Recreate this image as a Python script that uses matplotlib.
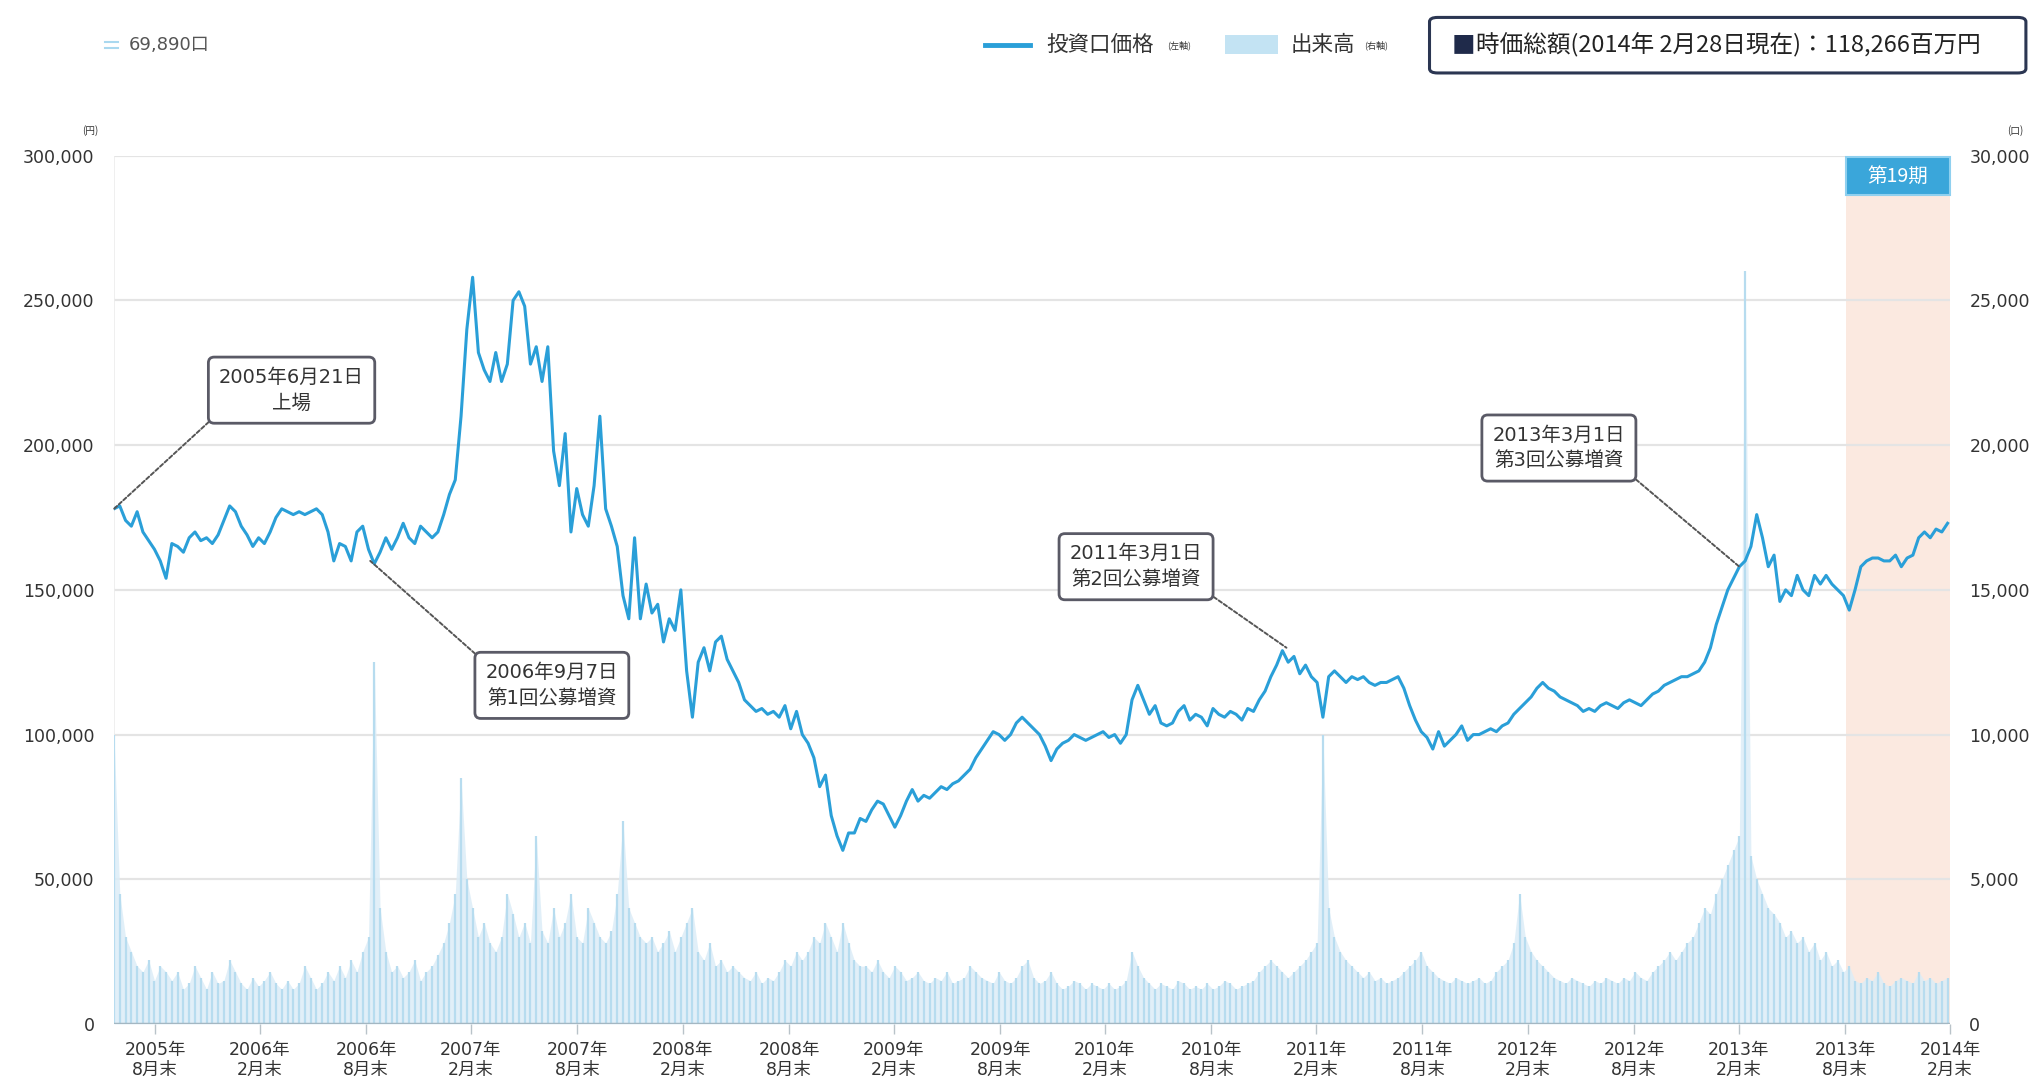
import matplotlib
matplotlib.use("Agg")
import matplotlib.pyplot as plt
import matplotlib.dates as mdates
from matplotlib.patches import Rectangle, FancyBboxPatch
from matplotlib.lines import Line2D
import pandas as pd
import numpy as np

plt.rcParams['font.family'] = ['Noto Sans CJK JP', 'DejaVu Sans']
NUM_FONT = ['DejaVu Sans', 'Noto Sans CJK JP']

# ---- data -------------------------------------------------------------
# unit price (thousand yen), one reading every 10 days from listing day
price_start = "2005-06-21"
price_k = [
    178, 179, 174, 172, 177, 170, 167, 164, 160, 154,
    166, 165, 163, 168, 170, 167, 168, 166, 169, 174,
    179, 177, 172, 169, 165, 168, 166, 170, 175, 178,
    177, 176, 177, 176, 177, 178, 176, 170, 160, 166,
    165, 160, 170, 172, 164, 159, 163, 168, 164, 168,
    173, 168, 166, 172, 170, 168, 170, 176, 183, 188,
    210, 240, 258, 232, 226, 222, 232, 222, 228, 250,
    253, 248, 228, 234, 222, 234, 198, 186, 204, 170,
    185, 176, 172, 186, 210, 178, 172, 165, 148, 140,
    168, 140, 152, 142, 145, 132, 140, 136, 150, 122,
    106, 125, 130, 122, 132, 134, 126, 122, 118, 112,
    110, 108, 109, 107, 108, 106, 110, 102, 108, 100,
    97, 92, 82, 86, 72, 65, 60, 66, 66, 71,
    70, 74, 77, 76, 72, 68, 72, 77, 81, 77,
    79, 78, 80, 82, 81, 83, 84, 86, 88, 92,
    95, 98, 101, 100, 98, 100, 104, 106, 104, 102,
    100, 96, 91, 95, 97, 98, 100, 99, 98, 99,
    100, 101, 99, 100, 97, 100, 112, 117, 112, 107,
    110, 104, 103, 104, 108, 110, 105, 107, 106, 103,
    109, 107, 106, 108, 107, 105, 109, 108, 112, 115,
    120, 124, 129, 125, 127, 121, 124, 120, 118, 106,
    120, 122, 120, 118, 120, 119, 120, 118, 117, 118,
    118, 119, 120, 116, 110, 105, 101, 99, 95, 101,
    96, 98, 100, 103, 98, 100, 100, 101, 102, 101,
    103, 104, 107, 109, 111, 113, 116, 118, 116, 115,
    113, 112, 111, 110, 108, 109, 108, 110, 111, 110,
    109, 111, 112, 111, 110, 112, 114, 115, 117, 118,
    119, 120, 120, 121, 122, 125, 130, 138, 144, 150,
    154, 158, 160, 165, 176, 168, 158, 162, 146, 150,
    148, 155, 150, 148, 155, 152, 155, 152, 150, 148,
    143, 150, 158, 160, 161, 161, 160, 160, 162, 158,
    161, 162, 168, 170, 168, 171, 170, 173,
]

# trading volume (hundreds of units), same 10-day readings
volume_h = [
    100, 45, 30, 25, 20, 18, 22, 15, 20, 18,
    15, 18, 12, 14, 20, 16, 12, 18, 14, 15,
    22, 18, 14, 12, 16, 13, 15, 18, 14, 12,
    15, 12, 14, 20, 16, 12, 14, 18, 15, 20,
    16, 22, 18, 25, 30, 125, 40, 25, 18, 20,
    16, 18, 22, 15, 18, 20, 24, 28, 35, 45,
    85, 50, 40, 30, 35, 28, 25, 30, 45, 38,
    30, 35, 28, 65, 32, 28, 40, 30, 35, 45,
    30, 28, 40, 35, 30, 28, 32, 45, 70, 40,
    35, 30, 28, 30, 25, 28, 32, 25, 30, 35,
    40, 25, 22, 28, 20, 22, 18, 20, 18, 16,
    15, 18, 14, 16, 15, 18, 22, 20, 25, 22,
    25, 30, 28, 35, 30, 25, 35, 28, 22, 20,
    20, 18, 22, 18, 16, 20, 18, 15, 16, 18,
    15, 14, 16, 15, 18, 14, 15, 16, 20, 18,
    16, 15, 14, 18, 15, 14, 16, 20, 22, 16,
    14, 15, 18, 14, 12, 13, 15, 14, 12, 14,
    13, 12, 14, 12, 13, 15, 25, 20, 16, 14,
    12, 14, 13, 12, 15, 14, 12, 13, 12, 14,
    12, 13, 15, 14, 12, 13, 14, 15, 18, 20,
    22, 20, 18, 16, 18, 20, 22, 25, 28, 100,
    40, 30, 25, 22, 20, 18, 16, 18, 15, 16,
    14, 15, 16, 18, 20, 22, 25, 20, 18, 16,
    15, 14, 16, 15, 14, 15, 16, 14, 15, 18,
    20, 22, 28, 45, 30, 25, 22, 20, 18, 16,
    15, 14, 16, 15, 14, 13, 15, 14, 16, 15,
    14, 16, 15, 18, 16, 15, 18, 20, 22, 25,
    22, 25, 28, 30, 35, 40, 38, 45, 50, 55,
    60, 65, 260, 58, 50, 45, 40, 38, 35, 30,
    32, 28, 30, 25, 28, 22, 25, 20, 22, 18,
    20, 15, 14, 16, 15, 18, 14, 13, 15, 16,
    15, 14, 18, 15, 16, 14, 15, 16,
]

tick_dates = [
    "2005-08-31", "2006-02-28", "2006-08-31", "2007-02-28", "2007-08-31",
    "2008-02-29", "2008-08-31", "2009-02-28", "2009-08-31", "2010-02-28",
    "2010-08-31", "2011-02-28", "2011-08-31", "2012-02-29", "2012-08-31",
    "2013-02-28", "2013-08-31", "2014-02-28",
]
tick_labels = [
    "2005年\n8月末", "2006年\n2月末", "2006年\n8月末", "2007年\n2月末", "2007年\n8月末",
    "2008年\n2月末", "2008年\n8月末", "2009年\n2月末", "2009年\n8月末", "2010年\n2月末",
    "2010年\n8月末", "2011年\n2月末", "2011年\n8月末", "2012年\n2月末", "2012年\n8月末",
    "2013年\n2月末", "2013年\n8月末", "2014年\n2月末",
]

price_ticks = [0, 50000, 100000, 150000, 200000, 250000, 300000]
volume_ticks = [0, 5000, 10000, 15000, 20000, 25000, 30000]

period_label = "第19期"
period_start, period_end = "2013-09-01", "2014-02-28"

events = [
    ("2005年6月21日\n上場", "2005-06-21", 178000, "2006-04-24", 219000, (0, 0)),
    ("2006年9月7日\n第1回公募増資", "2006-09-07", 160000, "2007-07-18", 117000, (0, 1)),
    ("2011年3月1日\n第2回公募増資", "2011-01-08", 130000, "2010-04-23", 158000, (1, 0)),
    ("2013年3月1日\n第3回公募増資", "2013-03-01", 158000, "2012-04-23", 199000, (1, 0)),
]

# ---- figure -----------------------------------------------------------
LINE_BLUE = "#2a9fd8"
TEXT = "#333333"
GRID = "#e4e4e4"

fig = plt.figure(figsize=(20.32, 10.89), dpi=100)
ax = fig.add_axes([0.0561, 0.0597, 0.9035, 0.7973])   # volume (right axis)
axp = ax.twinx()                                      # price (left axis)

dates = pd.date_range(price_start, periods=len(price_k), freq="10D")
xd = mdates.date2num(dates.to_pydatetime())
x0 = mdates.date2num(pd.Timestamp("2005-06-21"))
x1 = mdates.date2num(pd.Timestamp("2014-02-28"))

# period band
ps = mdates.date2num(pd.Timestamp(period_start))
pe = mdates.date2num(pd.Timestamp(period_end))
ax.axvspan(ps, pe, ymin=0, ymax=0.955, color="#fbe9e0", zorder=0, lw=0)
ax.add_patch(Rectangle((ps, 0.955), pe - ps, 0.043, transform=ax.get_xaxis_transform(),
                       facecolor="#3aa6da", edgecolor="#8fd0ef", lw=1.5, zorder=3, clip_on=False))
ax.text((ps + pe) / 2, 0.9765, period_label, transform=ax.get_xaxis_transform(),
        ha="center", va="center", color="white", fontsize=14, zorder=4)

# grid
for v in volume_ticks[1:]:
    ax.axhline(v, color=GRID, lw=1.6, zorder=0.5)

# volume: pale area with thin strokes for each reading
vol = np.array(volume_h) * 100
ax.fill_between(xd, 0, vol, color="#dcedf7", alpha=0.85, lw=0, zorder=1)
ax.vlines(xd, 0, vol, color="#b7dcef", lw=1.6, zorder=1.2)
ax.set_ylim(0, 30000)
ax.set_xlim(x0, x1)
ax.yaxis.tick_right()
ax.set_yticks(volume_ticks)
ax.set_yticklabels([f"{v:,}" for v in volume_ticks], family=NUM_FONT)
ax.tick_params(axis="y", length=0, pad=14, labelsize=12.5, labelcolor=TEXT)

# price
price = np.array(price_k) * 1000
axp.plot(xd, price, color=LINE_BLUE, lw=2.2, zorder=5)
axp.set_ylim(0, 300000)
axp.yaxis.tick_left()
axp.set_yticks(price_ticks)
axp.set_yticklabels([f"{v:,}" for v in price_ticks], family=NUM_FONT)
axp.tick_params(axis="y", length=0, pad=14, labelsize=12.5, labelcolor=TEXT)

# x axis
ax.set_xticks([mdates.date2num(pd.Timestamp(d)) for d in tick_dates])
ax.set_xticklabels(tick_labels, family=NUM_FONT, linespacing=1.15)
ax.tick_params(axis="x", length=7, width=1, color="#b9c3c9", pad=5, labelsize=12.5,
               labelcolor=TEXT)
for a in (ax, axp):
    for s in ("top", "right", "left", "bottom"):
        a.spines[s].set_visible(False)
ax.axhline(0, color="#a4b7c2", lw=2.5, zorder=2)
ax.axvline(x0, color="#ececec", lw=1.2, zorder=0.5)

# units
fig.text(0.0445, 0.877, "(円)", fontsize=7, color=TEXT, ha="center")
fig.text(0.992, 0.877, "(口)", fontsize=7, color=TEXT, ha="center")

# event annotations
for text, px, py, tx, ty, rp in events:
    axp.annotate(text,
                 xy=(mdates.date2num(pd.Timestamp(px)), py),
                 xytext=(mdates.date2num(pd.Timestamp(tx)), ty),
                 ha="center", va="center", fontsize=14, color=TEXT, linespacing=1.45,
                 family=NUM_FONT,
                 bbox=dict(boxstyle="round,pad=0.55,rounding_size=0.3", fc="white",
                           ec="#5a5a66", lw=2),
                 arrowprops=dict(arrowstyle="-", color="#555", lw=1.4,
                                 linestyle=(0, (2, 1.2)), relpos=rp,
                                 shrinkA=0, shrinkB=0),
                 zorder=8)

# header: units held
fig.add_artist(Line2D([0.0515, 0.058], [0.9615, 0.9615], color="#a9d8ef", lw=1.5))
fig.add_artist(Line2D([0.0515, 0.058], [0.9560, 0.9560], color="#a9d8ef", lw=1.5))
fig.text(0.0635, 0.9587, "69,890口", fontsize=13, color="#555", va="center",
         family=NUM_FONT)

# header: legend
fig.add_artist(Line2D([0.4847, 0.5069], [0.9587, 0.9587], color=LINE_BLUE, lw=3.5))
fig.text(0.515, 0.9587, "投資口価格", fontsize=15.5, color=TEXT, va="center")
fig.text(0.5745, 0.9587, "(左軸)", fontsize=6.5, color=TEXT, va="center")
fig.add_artist(Rectangle((0.603, 0.950), 0.026, 0.018, facecolor="#c3e3f3",
                         edgecolor="none", transform=fig.transFigure))
fig.text(0.635, 0.9587, "出来高", fontsize=15.5, color=TEXT, va="center")
fig.text(0.6715, 0.9587, "(右軸)", fontsize=6.5, color=TEXT, va="center")

# header: market cap box
fig.add_artist(FancyBboxPatch((0.7035, 0.933), 0.2935, 0.051,
                              boxstyle="round,pad=0,rounding_size=0.004",
                              facecolor="white", edgecolor="#2b3652", lw=2.2,
                              transform=fig.transFigure))
fig.text(0.7145, 0.9585, "■", fontsize=17, color="#1f2a4a", va="center")
fig.text(0.7265, 0.9585, "時価総額(2014年 2月28日現在)：118,266百万円",
         fontsize=17, color="#222", va="center")

fig.savefig("out.png", dpi=100, facecolor="white")
